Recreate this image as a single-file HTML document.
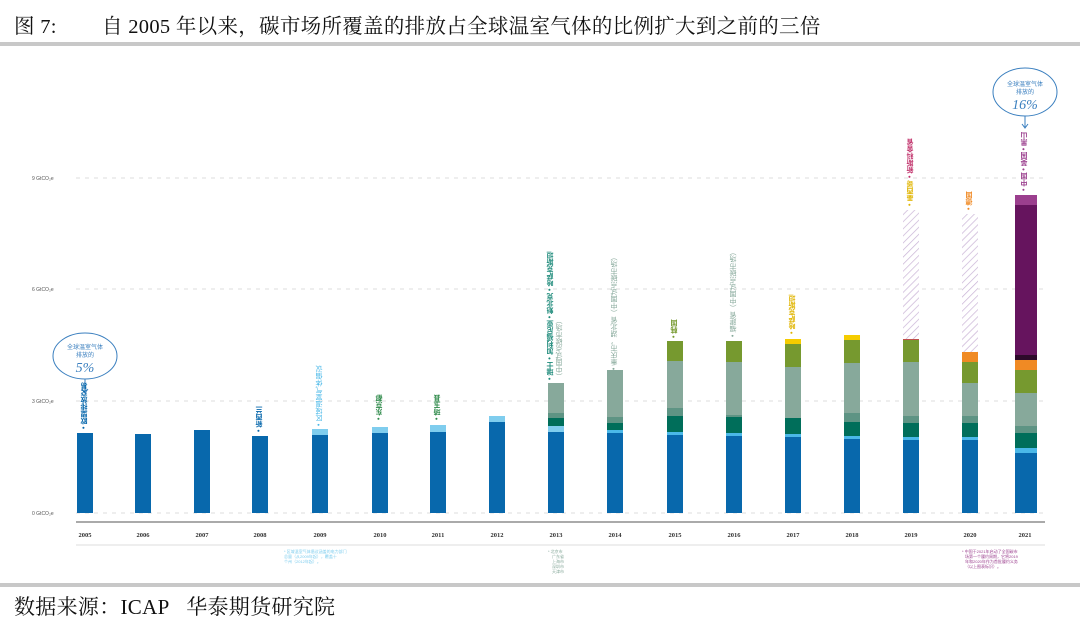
<!DOCTYPE html>
<html><head><meta charset="utf-8"><style>
body{margin:0;width:1080px;height:622px;background:#fff;overflow:hidden;position:relative;font-family:"Liberation Serif","Noto Serif CJK SC",serif}
.t{position:absolute;font-size:20.5px;color:#111;top:9px;letter-spacing:0.3px}
.v{position:absolute;writing-mode:vertical-rl;transform:rotate(180deg);font-family:"Liberation Sans","Noto Sans CJK SC",sans-serif;font-size:7px;line-height:8px;white-space:nowrap;font-weight:bold}
</style></head><body>
<div class="t" style="left:14px">图 7:</div>
<div class="t" style="left:102px">自 2005 年以来，碳市场所覆盖的排放占全球温室气体的比例扩大到之前的三倍</div>
<div style="position:absolute;left:0;top:42px;width:1080px;height:4px;background:#c8c8c8"></div>
<div style="position:absolute;left:0;top:583px;width:1080px;height:4px;background:#c8c8c8"></div>
<div class="t" style="left:14px;top:591px;font-size:21px">数据来源：ICAP&nbsp;&nbsp;&nbsp;华泰期货研究院</div>
<svg width="1080" height="622" style="position:absolute;left:0;top:0" font-family="Liberation Sans, Noto Sans CJK SC, sans-serif">
<defs><pattern id="h" width="5" height="5" patternUnits="userSpaceOnUse" patternTransform="rotate(45)"><rect width="5" height="5" fill="#fff"/><line x1="0" y1="0" x2="0" y2="5" stroke="#c9b3d6" stroke-width="1.4"/></pattern></defs>
<g stroke="#ddd" stroke-dasharray="4,5" stroke-width="1">
<line x1="76" y1="178" x2="1045" y2="178"/><line x1="76" y1="289" x2="1045" y2="289"/><line x1="76" y1="401" x2="1045" y2="401"/><line x1="76" y1="513" x2="1045" y2="513"/></g>
<g font-size="5" fill="#555"><text x="32" y="180">9 GtCO₂e</text><text x="32" y="291">6 GtCO₂e</text><text x="32" y="403">3 GtCO₂e</text><text x="32" y="515">0 GtCO₂e</text></g>
<line x1="76" y1="522" x2="1045" y2="522" stroke="#aaa" stroke-width="2"/>
<line x1="76" y1="545" x2="1045" y2="545" stroke="#ddd" stroke-width="1"/>
<g font-size="6.5" font-weight="bold" fill="#333" text-anchor="middle" font-family="Liberation Serif,serif">
<text x="85" y="537">2005</text><text x="143" y="537">2006</text><text x="202" y="537">2007</text><text x="260" y="537">2008</text><text x="320" y="537">2009</text><text x="380" y="537">2010</text><text x="438" y="537">2011</text><text x="497" y="537">2012</text><text x="556" y="537">2013</text><text x="615" y="537">2014</text><text x="675" y="537">2015</text><text x="734" y="537">2016</text><text x="793" y="537">2017</text><text x="852" y="537">2018</text><text x="911" y="537">2019</text><text x="970" y="537">2020</text><text x="1025" y="537">2021</text></g>
<g id="bars">
<rect x="77" y="433" width="16" height="80" fill="#0868ac"/>
<rect x="135" y="434" width="16" height="79" fill="#0868ac"/>
<rect x="194" y="430" width="16" height="83" fill="#0868ac"/>
<rect x="252" y="436" width="16" height="77" fill="#0868ac"/>
<rect x="312" y="429" width="16" height="6" fill="#7fcdee"/><rect x="312" y="435" width="16" height="78" fill="#0868ac"/>
<rect x="372" y="427" width="16" height="6" fill="#7fcdee"/><rect x="372" y="433" width="16" height="80" fill="#0868ac"/>
<rect x="430" y="425" width="16" height="7" fill="#7fcdee"/><rect x="430" y="432" width="16" height="81" fill="#0868ac"/>
<rect x="489" y="416" width="16" height="6" fill="#7fcdee"/><rect x="489" y="422" width="16" height="91" fill="#0868ac"/>
<rect x="548" y="383" width="16" height="30" fill="#87a99b"/><rect x="548" y="413" width="16" height="5" fill="#5e9484"/><rect x="548" y="418" width="16" height="8" fill="#006e5a"/><rect x="548" y="426" width="16" height="6" fill="#7fcdee"/><rect x="548" y="432" width="16" height="81" fill="#0868ac"/>
<rect x="607" y="370" width="16" height="47" fill="#87a99b"/><rect x="607" y="417" width="16" height="6" fill="#5e9484"/><rect x="607" y="423" width="16" height="7" fill="#006e5a"/><rect x="607" y="430" width="16" height="3" fill="#4ab8e8"/><rect x="607" y="433" width="16" height="80" fill="#0868ac"/>
<rect x="667" y="341" width="16" height="20" fill="#76992f"/><rect x="667" y="361" width="16" height="47" fill="#87a99b"/><rect x="667" y="408" width="16" height="8" fill="#5e9484"/><rect x="667" y="416" width="16" height="16" fill="#006e5a"/><rect x="667" y="432" width="16" height="3" fill="#4ab8e8"/><rect x="667" y="435" width="16" height="78" fill="#0868ac"/>
<rect x="726" y="341" width="16" height="21" fill="#76992f"/><rect x="726" y="362" width="16" height="53" fill="#87a99b"/><rect x="726" y="415" width="16" height="2" fill="#5e9484"/><rect x="726" y="417" width="16" height="16" fill="#006e5a"/><rect x="726" y="433" width="16" height="3" fill="#4ab8e8"/><rect x="726" y="436" width="16" height="77" fill="#0868ac"/>
<rect x="785" y="339" width="16" height="5" fill="#f5cc00"/><rect x="785" y="344" width="16" height="23" fill="#76992f"/><rect x="785" y="367" width="16" height="51" fill="#87a99b"/><rect x="785" y="418" width="16" height="16" fill="#006e5a"/><rect x="785" y="434" width="16" height="3" fill="#4ab8e8"/><rect x="785" y="437" width="16" height="76" fill="#0868ac"/>
<rect x="844" y="335" width="16" height="5" fill="#f5cc00"/><rect x="844" y="340" width="16" height="23" fill="#76992f"/><rect x="844" y="363" width="16" height="50" fill="#87a99b"/><rect x="844" y="413" width="16" height="9" fill="#5e9484"/><rect x="844" y="422" width="16" height="14" fill="#006e5a"/><rect x="844" y="436" width="16" height="3" fill="#4ab8e8"/><rect x="844" y="439" width="16" height="74" fill="#0868ac"/>
<rect x="903" y="210" width="16" height="129" fill="url(#h)"/><rect x="903" y="339" width="16" height="1" fill="#c0504d"/><rect x="903" y="340" width="16" height="22" fill="#76992f"/><rect x="903" y="362" width="16" height="54" fill="#87a99b"/><rect x="903" y="416" width="16" height="7" fill="#5e9484"/><rect x="903" y="423" width="16" height="14" fill="#006e5a"/><rect x="903" y="437" width="16" height="3" fill="#4ab8e8"/><rect x="903" y="440" width="16" height="73" fill="#0868ac"/>
<rect x="962" y="214" width="16" height="138" fill="url(#h)"/><rect x="962" y="352" width="16" height="10" fill="#f08a24"/><rect x="962" y="362" width="16" height="21" fill="#76992f"/><rect x="962" y="383" width="16" height="33" fill="#87a99b"/><rect x="962" y="416" width="16" height="7" fill="#5e9484"/><rect x="962" y="423" width="16" height="14" fill="#006e5a"/><rect x="962" y="437" width="16" height="3" fill="#4ab8e8"/><rect x="962" y="440" width="16" height="73" fill="#0868ac"/>
<rect x="1015" y="195" width="22" height="10" fill="#9b3f8e"/><rect x="1015" y="205" width="22" height="150" fill="#66145e"/><rect x="1015" y="355" width="22" height="5" fill="#2d0a2a"/><rect x="1015" y="360" width="22" height="10" fill="#f08a24"/><rect x="1015" y="370" width="22" height="23" fill="#76992f"/><rect x="1015" y="393" width="22" height="33" fill="#87a99b"/><rect x="1015" y="426" width="22" height="7" fill="#5e9484"/><rect x="1015" y="433" width="22" height="15" fill="#006e5a"/><rect x="1015" y="448" width="22" height="5" fill="#4ab8e8"/><rect x="1015" y="453" width="22" height="60" fill="#0868ac"/>
</g>
<ellipse cx="85" cy="356" rx="32" ry="23" fill="#fff" stroke="#3a7fbf" stroke-width="1"/>
<text x="85" y="349" font-size="6" fill="#3a7fbf" text-anchor="middle">全球温室气体</text>
<text x="85" y="357" font-size="6" fill="#3a7fbf" text-anchor="middle">排放的</text>
<text x="85" y="372" font-size="14" fill="#3a7fbf" text-anchor="middle" font-style="italic" font-family="Liberation Serif,serif">5%</text>
<line x1="85" y1="379" x2="85" y2="392" stroke="#3a7fbf"/><path d="M82 389 L85 393 L88 389" fill="none" stroke="#3a7fbf"/>
<ellipse cx="1025" cy="92" rx="32" ry="24" fill="#fff" stroke="#3a7fbf" stroke-width="1"/>
<text x="1025" y="86" font-size="6" fill="#3a7fbf" text-anchor="middle">全球温室气体</text>
<text x="1025" y="94" font-size="6" fill="#3a7fbf" text-anchor="middle">排放的</text>
<text x="1025" y="109" font-size="14" fill="#3a7fbf" text-anchor="middle" font-style="italic" font-family="Liberation Serif,serif">16%</text>
<line x1="1025" y1="116" x2="1025" y2="127" stroke="#3a7fbf"/><path d="M1022 124 L1025 128 L1028 124" fill="none" stroke="#3a7fbf"/>
<g font-size="4" fill="#7fcdee"><text x="284" y="553">* 区域温室气体倡议涵盖的电力部门</text><text x="284" y="558">总量（从2009年起），覆盖十</text><text x="284" y="563">个州（2012年起）。</text></g>
<g font-size="4" fill="#87a99b"><text x="548" y="553">* 北京市</text><text x="552" y="558">广东省</text><text x="552" y="563">上海市</text><text x="552" y="568">深圳市</text><text x="552" y="573">天津市</text></g>
<g font-size="4" fill="#9b3f8e"><text x="962" y="553">* 中国于2021年启动了全国碳市</text><text x="965" y="558">场第一个履约周期，它将2019</text><text x="965" y="563">年和2020年作为首批履约义务</text><text x="965" y="568">（以上图表标识）。</text></g>
</svg>
<div class="v" style="left:81px;top:395px;height:34px;color:#0868ac">• 欧盟排放交易</div>
<div class="v" style="left:256px;top:410px;height:22px;color:#0868ac">• 新西兰</div>
<div class="v" style="left:316px;top:368px;height:58px;color:#4ab8e8;font-weight:normal">• 区域温室气体倡议</div>
<div class="v" style="left:376px;top:398px;height:22px;color:#2e8a4a">• 东京都</div>
<div class="v" style="left:434px;top:398px;height:22px;color:#2e8a4a">• 琦玉县</div>
<div class="v" style="left:547px;top:260px;height:120px;color:#1d8a7a">• 瑞士 • 加利福尼亚 • 魁北克 • 哈萨克斯坦</div>
<div class="v" style="left:556px;top:340px;height:40px;color:#87a99b;font-weight:normal">（中国试点碳市场）</div>
<div class="v" style="left:611px;top:268px;height:102px;color:#87a99b;font-weight:normal">• 重庆市，湖北省（中国试点碳市场）</div>
<div class="v" style="left:671px;top:320px;height:18px;color:#76992f">• 韩国</div>
<div class="v" style="left:730px;top:265px;height:72px;color:#87a99b;font-weight:normal">• 福建省（中国试点碳市场）</div>
<div class="v" style="left:789px;top:308px;height:26px;color:#e0b400">• 哈萨克斯坦</div>
<div class="v" style="left:907px;top:140px;height:38px;color:#c0306a">• 新斯科舍省</div>
<div class="v" style="left:907px;top:178px;height:28px;color:#e0b400">• 墨西哥</div>
<div class="v" style="left:966px;top:186px;height:24px;color:#f08a24">• 德国</div>
<div class="v" style="left:1021px;top:135px;height:56px;color:#9b3f8e">• 中国 • 英国 • 黑山</div>
</body></html>
